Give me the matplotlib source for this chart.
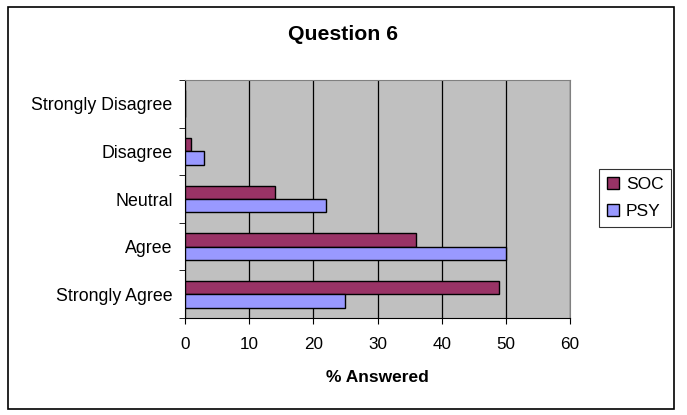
import matplotlib as mpl
from matplotlib import pyplot as plt
from matplotlib.patches import Rectangle
import numpy as np

mpl.rcParams['font.family'] = ['Liberation Sans', 'DejaVu Sans']

categories = ['Strongly Agree', 'Agree', 'Neutral', 'Disagree', 'Strongly Disagree']
soc = [49, 36, 14, 1, 0]
psy = [25, 50, 22, 3, 0]
xticks = [0, 10, 20, 30, 40, 50, 60]

fig = plt.figure(figsize=(6.87, 4.15), dpi=100)
ax = fig.add_axes([0.2693, 0.2337, 0.5604, 0.5735])

y = np.arange(len(categories))
h = 0.28
# SOC drawn above, PSY below within each category
ax.barh(y + h / 2, soc, height=h, color='#993366', edgecolor='black', linewidth=1, label='SOC', zorder=3)
ax.barh(y - h / 2, psy, height=h, color='#9999FF', edgecolor='black', linewidth=1, label='PSY', zorder=3)

ax.set_facecolor('#C0C0C0')
ax.set_xlim(0, 60)
ax.set_ylim(-0.5, len(categories) - 0.5)
ax.set_xticks(xticks)
ax.xaxis.grid(True, color='black', linewidth=0.9, zorder=1)
ax.set_axisbelow(True)

# category labels centred, ticks on category boundaries
ax.set_yticks(y)
ax.set_yticklabels(categories, fontsize=12.8)
ax.tick_params(axis='y', length=0, pad=9)
ax.set_yticks(np.arange(-0.5, len(categories)), minor=True)
ax.tick_params(axis='y', which='minor', length=4, direction='out', color='black')
ax.tick_params(axis='x', length=4, direction='out', labelsize=12.3, pad=9.5)

ax.spines['left'].set_color('black')
ax.spines['bottom'].set_color('black')
ax.spines['top'].set_color('#808080')
ax.spines['right'].set_color('#808080')

ax.set_xlabel('% Answered', fontsize=12.5, fontweight='bold')
ax.xaxis.label.set_va('center')
ax.xaxis.set_label_coords(0.5, -0.25)
fig.text(0.5, 0.916, 'Question 6', ha='center', va='center', fontsize=15.3, fontweight='bold')

handles, labels = ax.get_legend_handles_labels()
leg = fig.legend(handles, labels, loc='center left', bbox_to_anchor=(0.872, 0.523),
                 frameon=True, fancybox=False, edgecolor='black', fontsize=12.5,
                 handlelength=0.7, handleheight=0.7, handletextpad=0.4, borderpad=0.45,
                 labelspacing=0.65, borderaxespad=0)
leg.get_frame().set_linewidth(0.8)

# outer chart border
fig.patches.append(Rectangle((0.012, 0.015), 0.969, 0.968, transform=fig.transFigure,
                             fill=False, edgecolor='black', linewidth=1.2))

plt.savefig('out.png', dpi=100)
